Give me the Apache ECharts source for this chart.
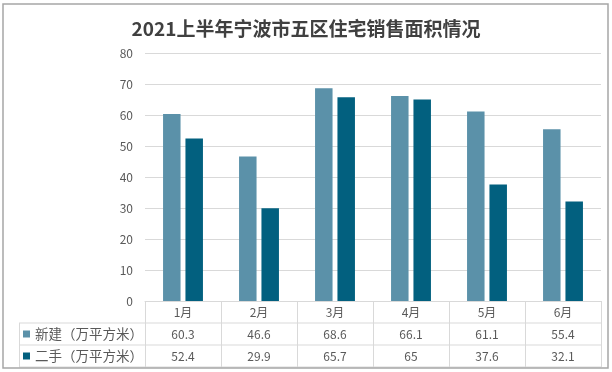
<!DOCTYPE html>
<html><head><meta charset="utf-8">
<script src="https://cdn.jsdelivr.net/npm/echarts@6/dist/echarts.min.js"></script>
<style>html,body{margin:0;padding:0;background:#fff}#c{width:612px;height:372px}</style>
</head><body><div id="c"></div>
<script>
const title = '2021上半年宁波市五区住宅销售面积情况';
const categories = ['1月','2月','3月','4月','5月','6月'];
const seriesNames = ['新建（万平方米）','二手（万平方米）'];
const newValues = [60.3, 46.6, 68.6, 66.1, 61.1, 55.4];
const usedValues = [52.4, 29.9, 65.7, 65, 37.6, 32.1];
const yTicks = [0,10,20,30,40,50,60,70,80];

const chart = echarts.init(document.getElementById('c'), null, {renderer:'canvas'});
const font = '"Noto Sans CJK SC","Noto Sans",sans-serif';
const gridLeft = 145, gridRight = 11, gridTop = 53, gridBottom = 71, rowH = 22;
const axisY = 372 - gridBottom;
const tableLine = (y) => ({type:'line', shape:{x1:19, y1:y, x2:612-gridRight, y2:y}, style:{stroke:'#d9d9d9', lineWidth:1}, silent:true});
const option = {
  animation:false,
  textStyle:{fontFamily:font},
  title:{text:title, left:'center', top:14, textStyle:{fontSize:19, fontWeight:'bold', color:'#404040', fontFamily:font}},
  legend:{orient:'vertical', left:23, top:axisY+rowH+4, padding:0, itemWidth:7, itemHeight:7, itemGap:8, icon:'rect',
    textStyle:{fontSize:13.5, color:'#595959', lineHeight:14, fontFamily:font}, data:seriesNames},
  grid:{left:gridLeft, right:gridRight, top:gridTop, bottom:gridBottom},
  xAxis:{type:'category', data:categories,
    axisLine:{lineStyle:{color:'#d9d9d9'}},
    axisTick:{show:true, length:rowH*3, lineStyle:{color:'#d9d9d9'}},
    axisLabel:{margin:0, interval:0, color:'#595959', fontSize:12, lineHeight:rowH,
      formatter:(v, i) => v + '\n' + newValues[i] + '\n' + usedValues[i]}},
  yAxis:{type:'value', min:yTicks[0], max:yTicks[yTicks.length-1], interval:10,
    axisLine:{show:false}, axisTick:{show:false},
    axisLabel:{color:'#595959', fontSize:12, margin:12},
    splitLine:{lineStyle:{color:'#d9d9d9'}}},
  series:[
    {name:seriesNames[0], type:'bar', data:newValues, barWidth:17.5, barGap:'28%', itemStyle:{color:'#5b91a9'}},
    {name:seriesNames[1], type:'bar', data:usedValues, barWidth:17.5, itemStyle:{color:'#02607f'}}
  ],
  graphic:[
    tableLine(axisY+rowH), tableLine(axisY+rowH*2), tableLine(axisY+rowH*3),
    {type:'line', shape:{x1:19.5, y1:axisY+rowH, x2:19.5, y2:axisY+rowH*3}, style:{stroke:'#d9d9d9', lineWidth:1}, silent:true},
    {type:'rect', shape:{x:3, y:4, width:605, height:364}, style:{fill:'none', stroke:'#a6a6a6', lineWidth:1.5}, silent:true}
  ]
};
chart.setOption(option);
</script></body></html>
